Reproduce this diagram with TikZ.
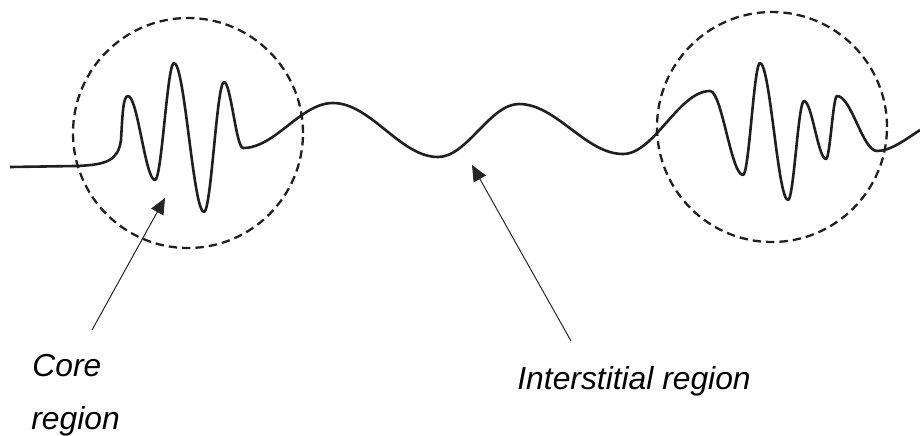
\documentclass[tikz,border=0pt]{standalone}
\usepackage{fontspec}
\setmainfont{Liberation Sans}
\usepackage{tikz}
\usetikzlibrary{arrows.meta}

\begin{document}
\begin{tikzpicture}[
  x=0.5pt, y=-0.5pt,
  font=\fontsize{15.9}{18}\selectfont\itshape,
  >={Triangle[length=8pt,width=7pt]},
  wave/.style={draw=black!88, line width=1.3pt, line join=round},
  region/.style={draw=black!88, line width=1.15pt, dash pattern=on 4.2pt off 2.5pt},
  pointer/.style={->, draw=black!85, line width=0.5pt},
  lbl/.style={anchor=base west, inner sep=0pt}
]
  \useasboundingbox (0,0) rectangle (920,435);

  % core regions
  \node[region, circle, minimum size=115pt] (leftcore) at (188,133) {};
  \node[region, circle, minimum size=115pt] (rightcore) at (772,127) {};

  % wave function
  \draw[wave] (10,167) -- (75,166)
    .. controls (108,165) and (118,160) .. (121,140)
    .. controls (122.5,115) and (123,96) .. (128,96)
    .. controls (137.7,96) and (145.3,180) .. (155,180)
    .. controls (161.8,180) and (167.2,63) .. (174,63)
    .. controls (184.8,63) and (193.2,212) .. (204,212)
    .. controls (211.2,212) and (216.8,82) .. (224,82)
    .. controls (230.8,82) and (236.2,148) .. (243,148)
    .. controls (275.4,148) and (300.6,103) .. (333,103)
    .. controls (370.8,103) and (400.2,157) .. (438,157)
    .. controls (467.2,157) and (489.8,104) .. (519,104)
    .. controls (556.4,104) and (585.6,154) .. (623,154)
    .. controls (654.3,154) and (678.7,91) .. (710,91)
    .. controls (721.9,91) and (731.1,175) .. (743,175)
    .. controls (749.1,175) and (753.9,63) .. (760,63)
    .. controls (770.1,63) and (777.9,200) .. (788,200)
    .. controls (793.8,200) and (798.2,101) .. (804,101)
    .. controls (811.9,101) and (818.1,159) .. (826,159)
    .. controls (830,159) and (833,96) .. (837,96)
    .. controls (851.4,96) and (862.6,151) .. (877,151)
    .. controls (890,151) and (905,140) .. (920,130);

  % labels
  \node[lbl] (corelbl) at (32,376) {Core};
  \node[lbl] (corelbl2) at (31,429) {region};
  \node[lbl] (interlbl) at (517,389) {Interstitial region};

  \coordinate (coretail) at (92,330);
  \coordinate (coretip) at (165,198);
  \coordinate (intertail) at (571,341);
  \coordinate (intertip) at (472,165);

  \draw[pointer] (coretail) -- (coretip);
  \draw[pointer] (intertail) -- (intertip);
\end{tikzpicture}
\end{document}
